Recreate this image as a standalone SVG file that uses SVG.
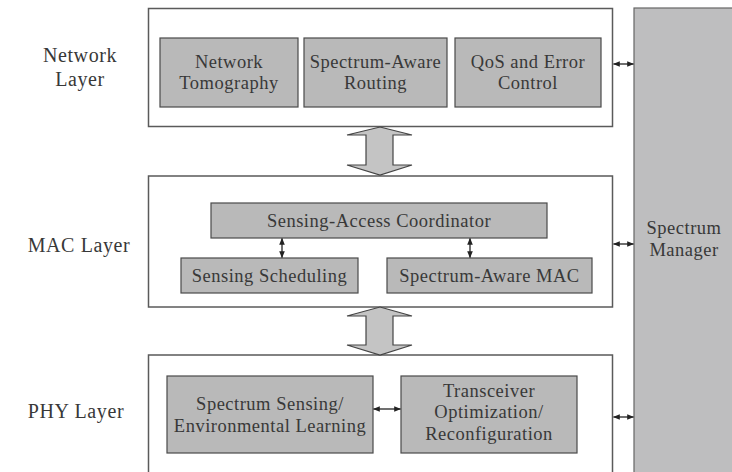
<svg xmlns="http://www.w3.org/2000/svg" width="732" height="472" viewBox="0 0 732 472">
  <defs>
    <style>
      .layer { fill: #ffffff; stroke: #5a5a5a; stroke-width: 1.5; }
      .block { fill: #b9b9b9; stroke: #4a4a4a; stroke-width: 1.2; }
      .mgr { fill: #bebebf; stroke: #666666; stroke-width: 1.2; }
      .fat { fill: #c4c4c4; stroke: #444444; stroke-width: 1.2; stroke-linejoin: miter; }
      .link { stroke: #222222; stroke-width: 1.3; fill: none; marker-start: url(#head); marker-end: url(#head); }
      text { font-family: "Liberation Serif", "Times New Roman", serif; fill: #383838; text-anchor: middle; }
      .t { font-size: 18.5px; letter-spacing: 0.5px; }
      .lbl { font-size: 20px; letter-spacing: 0.6px; }
    </style>
    <marker id="head" viewBox="0 0 10 10" refX="9" refY="5" markerWidth="7" markerHeight="7" orient="auto-start-reverse" markerUnits="userSpaceOnUse">
      <path d="M0,1 L10,5 L0,9 z" fill="#222222"/>
    </marker>
  </defs>
  <rect width="732" height="472" fill="#ffffff"/>

  <!-- layer labels -->
  <g id="labels">
    <text class="lbl" x="80" y="62">Network</text>
    <text class="lbl" x="80" y="86">Layer</text>
    <text class="lbl" x="79" y="252">MAC Layer</text>
    <text class="lbl" x="76" y="418">PHY Layer</text>
  </g>

  <!-- spectrum manager column -->
  <g id="spectrum-manager">
    <rect class="mgr" x="634" y="8" width="110" height="480"/>
    <text class="t" x="684" y="234">Spectrum</text>
    <text class="t" x="684" y="256">Manager</text>
  </g>

  <!-- network layer -->
  <g id="network-layer">
    <rect class="layer" x="148.5" y="8.5" width="464" height="118"/>
  </g>
  <g id="network-tomography">
    <rect class="block" x="160" y="38" width="138" height="69"/>
    <text class="t" x="229" y="68">Network</text>
    <text class="t" x="229" y="89">Tomography</text>
  </g>
  <g id="spectrum-aware-routing">
    <rect class="block" x="304" y="38" width="143" height="69"/>
    <text class="t" x="375.5" y="68">Spectrum-Aware</text>
    <text class="t" x="375.5" y="89">Routing</text>
  </g>
  <g id="qos-error-control">
    <rect class="block" x="455" y="38" width="146" height="69"/>
    <text class="t" x="528" y="68">QoS and Error</text>
    <text class="t" x="528" y="89">Control</text>
  </g>

  <!-- MAC layer -->
  <g id="mac-layer">
    <rect class="layer" x="148.5" y="176" width="464" height="131"/>
  </g>
  <g id="sensing-access-coordinator">
    <rect class="block" x="211" y="203" width="336" height="35"/>
    <text class="t" x="379" y="227">Sensing-Access Coordinator</text>
  </g>
  <g id="sensing-scheduling">
    <rect class="block" x="181" y="258" width="177" height="35"/>
    <text class="t" x="269.5" y="282">Sensing Scheduling</text>
  </g>
  <g id="spectrum-aware-mac">
    <rect class="block" x="387" y="258" width="205" height="35"/>
    <text class="t" x="489.5" y="282">Spectrum-Aware MAC</text>
  </g>

  <!-- PHY layer -->
  <g id="phy-layer">
    <rect class="layer" x="148.5" y="355" width="464" height="130"/>
  </g>
  <g id="spectrum-sensing">
    <rect class="block" x="167" y="376" width="206" height="77"/>
    <text class="t" x="270" y="410">Spectrum Sensing/</text>
    <text class="t" x="270" y="432">Environmental Learning</text>
  </g>
  <g id="transceiver-optimization">
    <rect class="block" x="401" y="376" width="176" height="77"/>
    <text class="t" x="489" y="397">Transceiver</text>
    <text class="t" x="489" y="418">Optimization/</text>
    <text class="t" x="489" y="440">Reconfiguration</text>
  </g>

  <!-- connectors -->
  <g id="connectors">
    <!-- wide two-way arrows between layers -->
    <path class="fat" d="M380,127 L412,135 L393,135 L393,165 L412,165 L380,175 L347,165 L366,165 L366,135 L347,135 Z"/>
    <path class="fat" d="M380,307 L412,316 L393,316 L393,345 L412,345 L380,355 L347,345 L366,345 L366,316 L347,316 Z"/>
    <!-- layer to spectrum manager -->
    <line class="link" x1="613.5" y1="64" x2="633.5" y2="64"/>
    <line class="link" x1="613.5" y1="244" x2="633.5" y2="244"/>
    <line class="link" x1="613.5" y1="417" x2="633.5" y2="417"/>
    <!-- coordinator to MAC sub-blocks -->
    <line class="link" x1="282" y1="238.5" x2="282" y2="257.5"/>
    <line class="link" x1="470" y1="238.5" x2="470" y2="257.5"/>
    <!-- sensing to transceiver -->
    <line class="link" x1="373.5" y1="409" x2="400.5" y2="409"/>
  </g>
</svg>
